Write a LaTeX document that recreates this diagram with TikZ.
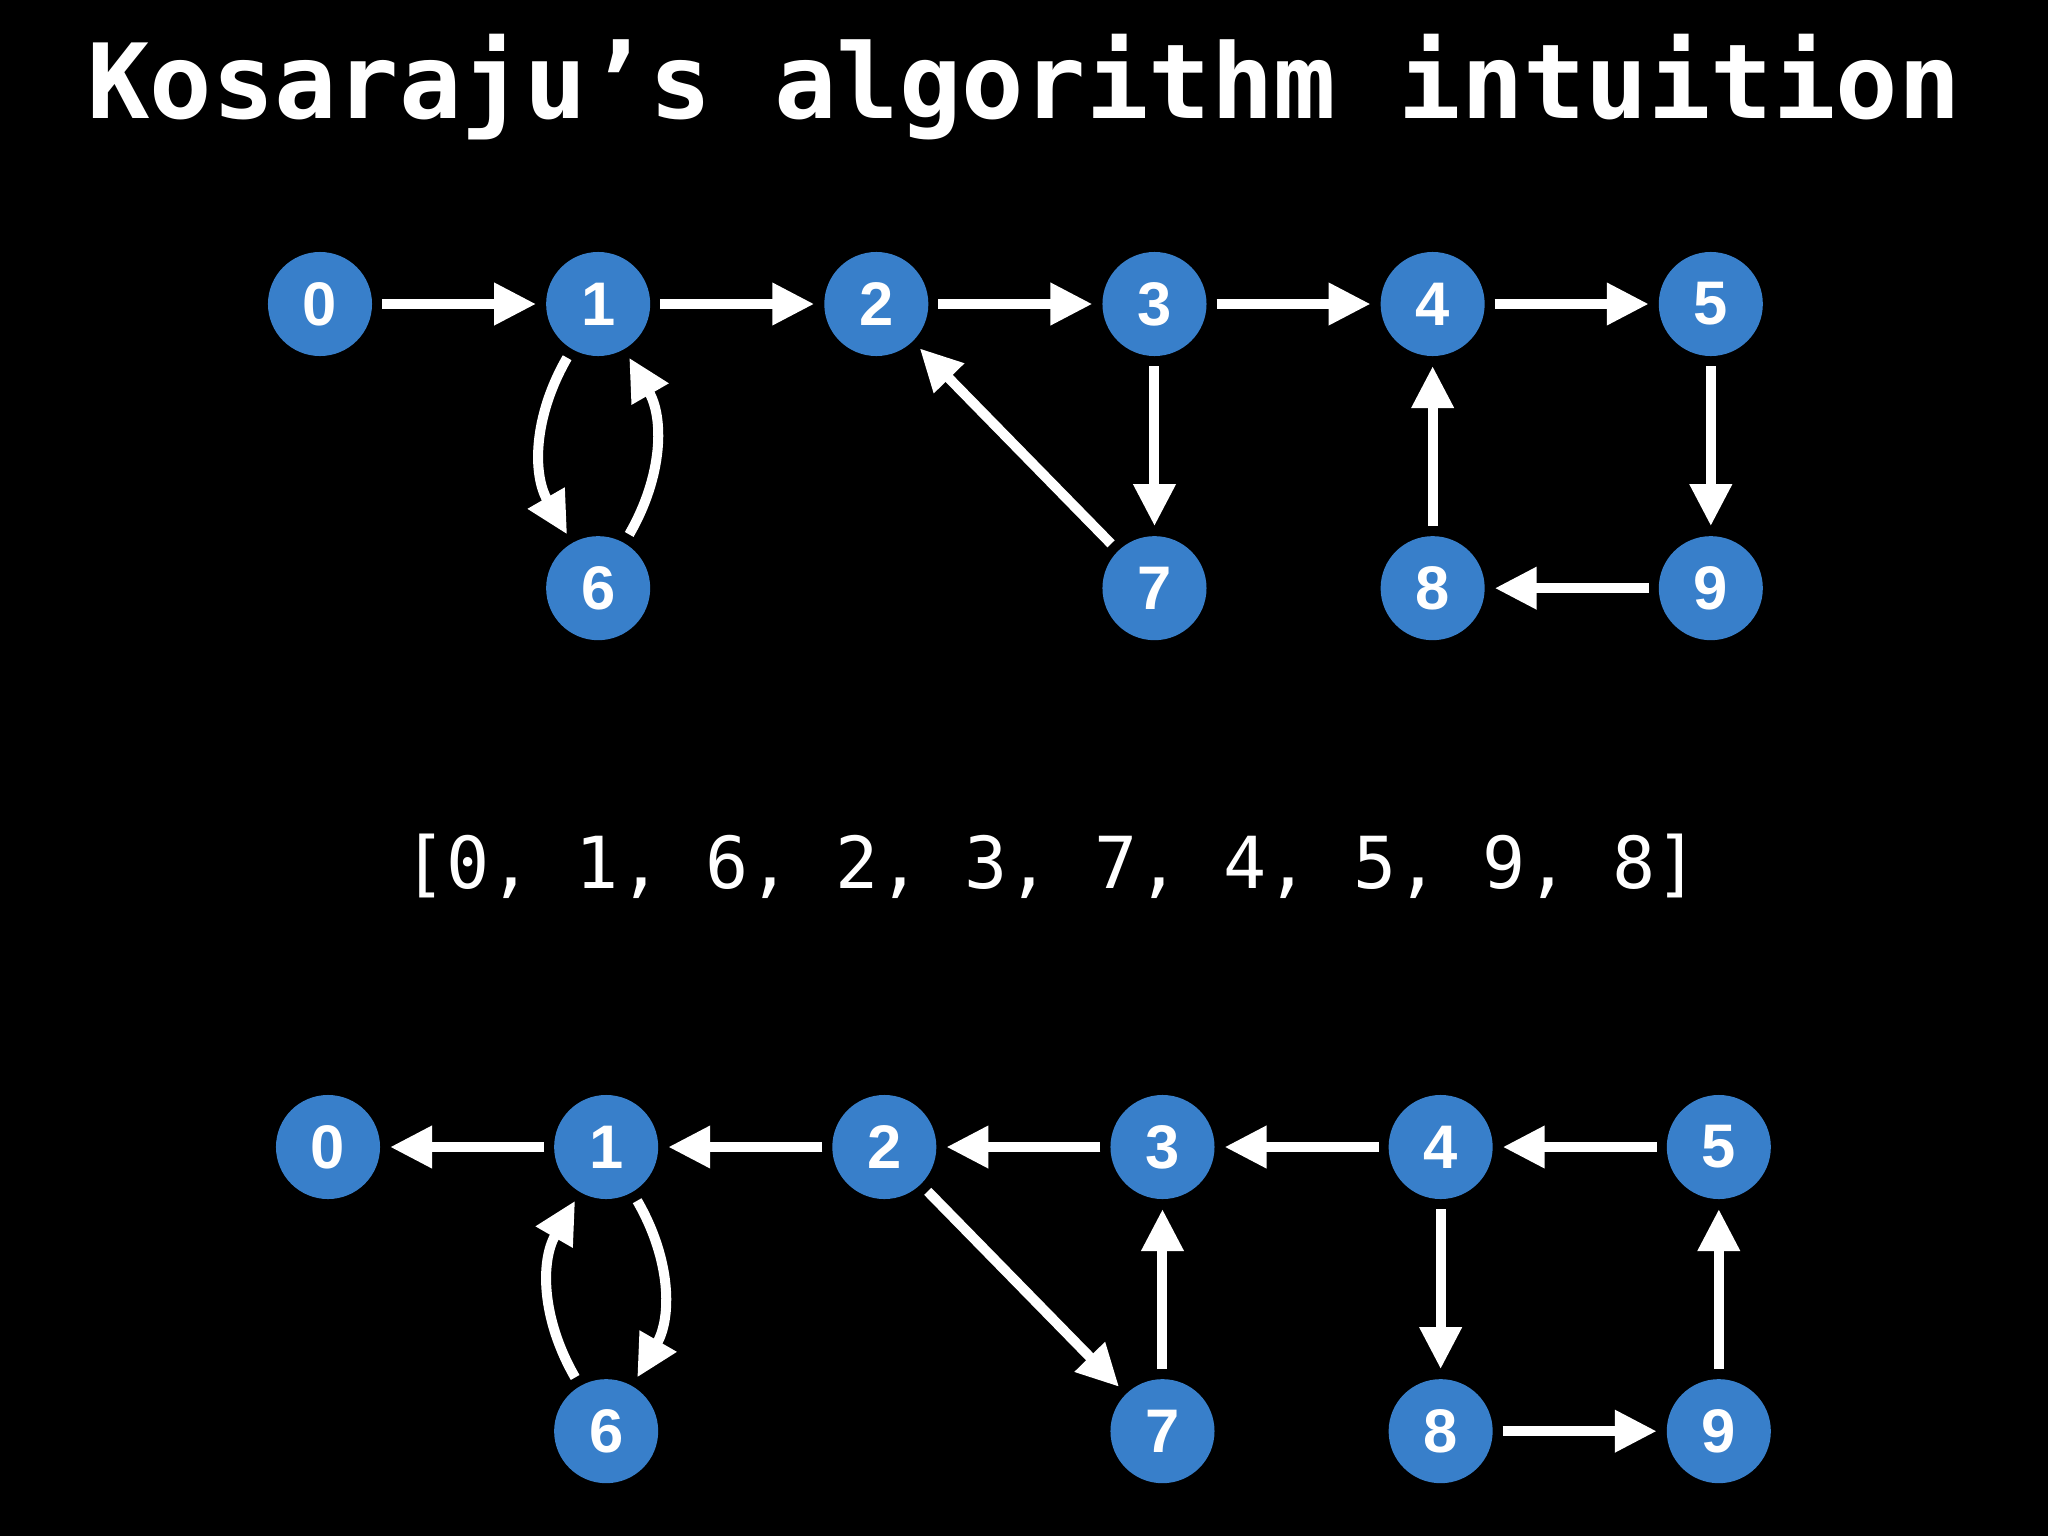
\documentclass[tikz,border=0pt]{standalone}
\usepackage{fontspec}
\setmainfont{Liberation Sans}
\newfontfamily\codefont{DejaVu Sans Mono}
\usepackage{tikz}
\usetikzlibrary{arrows.meta, positioning}
\definecolor{nodeblue}{RGB}{56,127,202}

\begin{document}
\begin{tikzpicture}[
  x=0.01cm, y=-0.01cm,
  node distance = 1.6cm and 1.54cm,
  vtx/.style   = {circle, fill=nodeblue, minimum size=1.04cm, inner sep=0pt,
                  outer sep=0.1cm, text=white,
                  font=\fontsize{17.5}{17.5}\selectfont\bfseries},
  arr/.style   = {-{Triangle[length=0.42cm, width=0.4cm]}, line width=0.1cm, white},
  title/.style = {text=white, anchor=base,
                  font=\codefont\bfseries\fontsize{29.5}{30}\selectfont},
  order/.style = {text=white, anchor=base,
                  font=\codefont\fontsize{20.4}{20.4}\selectfont},
]

% ── Background ────────────────────────────────────────────────────────────────
\fill[black] (0,0) rectangle (2048,1536);

% ── Title ─────────────────────────────────────────────────────────────────────
\node[title] (title) at (1024,118) {Kosaraju’s algorithm intuition};

% ── Top: original graph ───────────────────────────────────────────────────────
\node[vtx] (t0) at (320,304) {0};
\node[vtx, right=of t0] (t1) {1};
\node[vtx, right=of t1] (t2) {2};
\node[vtx, right=of t2] (t3) {3};
\node[vtx, right=of t3] (t4) {4};
\node[vtx, right=of t4] (t5) {5};
\node[vtx, below=of t1] (t6) {6};
\node[vtx, below=of t3] (t7) {7};
\node[vtx, below=of t4] (t8) {8};
\node[vtx, below=of t5] (t9) {9};

\draw[arr] (t0) -- (t1);
\draw[arr] (t1) -- (t2);
\draw[arr] (t2) -- (t3);
\draw[arr] (t3) -- (t4);
\draw[arr] (t4) -- (t5);
\draw[arr] (t1) to[bend right=30] (t6);
\draw[arr] (t6) to[bend right=30] (t1);
\draw[arr] (t7) -- (t2);
\draw[arr] (t3) -- (t7);
\draw[arr] (t5) -- (t9);
\draw[arr] (t9) -- (t8);
\draw[arr] (t8) -- (t4);

% ── Middle: finishing order ───────────────────────────────────────────────────
\node[order] (order) at (1051,888) {[0, 1, 6, 2, 3, 7, 4, 5, 9, 8]};

% ── Bottom: reversed graph ────────────────────────────────────────────────────
\node[vtx] (b0) at (328,1147) {0};
\node[vtx, right=of b0] (b1) {1};
\node[vtx, right=of b1] (b2) {2};
\node[vtx, right=of b2] (b3) {3};
\node[vtx, right=of b3] (b4) {4};
\node[vtx, right=of b4] (b5) {5};
\node[vtx, below=of b1] (b6) {6};
\node[vtx, below=of b3] (b7) {7};
\node[vtx, below=of b4] (b8) {8};
\node[vtx, below=of b5] (b9) {9};

\draw[arr] (b1) -- (b0);
\draw[arr] (b2) -- (b1);
\draw[arr] (b3) -- (b2);
\draw[arr] (b4) -- (b3);
\draw[arr] (b5) -- (b4);
\draw[arr] (b1) to[bend left=30] (b6);
\draw[arr] (b6) to[bend left=30] (b1);
\draw[arr] (b2) -- (b7);
\draw[arr] (b7) -- (b3);
\draw[arr] (b9) -- (b5);
\draw[arr] (b8) -- (b9);
\draw[arr] (b4) -- (b8);

\end{tikzpicture}
\end{document}
